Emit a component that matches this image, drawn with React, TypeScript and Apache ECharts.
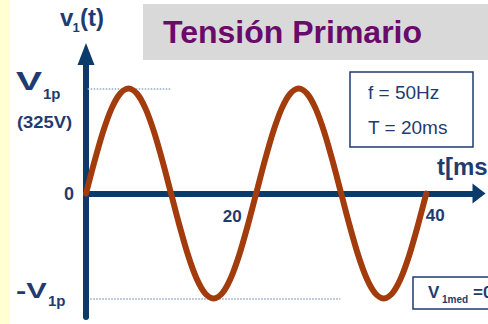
import React, { useEffect, useRef } from "react";
import * as echarts from "echarts";

// time in ms
const timeMs = [0, 1, 2, 3, 4, 5, 6, 7, 8, 9, 10, 11, 12, 13, 14, 15, 16, 17, 18, 19, 20, 21, 22, 23, 24, 25, 26, 27, 28, 29, 30, 31, 32, 33, 34, 35, 36, 37, 38, 39, 40];
// primary voltage v1(t) in volts
const voltage = [0, 100, 191, 263, 309, 325, 309, 263, 191, 100, 0, -100, -191, -263, -309, -325, -309, -263, -191, -100, 0, 100, 191, 263, 309, 325, 309, 263, 191, 100, 0, -100, -191, -263, -309, -325, -309, -263, -191, -100, 0];
// dotted reference lines at peak values [tStart, tEnd, value]
const peakLines = [
  [0.2, 9.9, 325],
  [0.5, 29.9, -325],
];
const xTickLabels = [20, 40];
const yTickLabels = [0];

const NAVY = "#1F3B70";
const AXIS = "#0B3A6B";
const CURVE = "#A33C0C";
const FONT = "'Liberation Sans', Arial, sans-serif";

export default function App() {
  const ref = useRef<HTMLDivElement>(null);
  useEffect(() => {
    if (!ref.current) return;
    const chart = echarts.init(ref.current, null, { renderer: "svg" });
    const t = (
      text: string,
      x: number,
      y: number,
      size: number,
      color: string,
      weight: string = "bold",
      scaleX: number = 1
    ) => ({
      type: "text",
      x,
      y,
      scaleX,
      silent: true,
      z: 10,
      style: {
        text,
        x: 0,
        y: 0,
        fill: color,
        fontSize: size,
        fontWeight: weight,
        fontFamily: FONT,
        align: "left",
        verticalAlign: "middle",
      },
    });
    const tickOffsets = [
      [-24, 23],
      [9, 22],
    ];
    chart.setOption({
      animation: false,
      backgroundColor: "#ffffff",
      grid: {
        left: 86,
        right: 9,
        top: 54,
        bottom: 7,
        outerBoundsMode: "none",
        containLabel: false,
      },
      xAxis: {
        type: "value",
        min: 0,
        max: 46.2,
        interval: 20,
        splitLine: { show: false },
        axisTick: { show: false },
        axisLabel: { show: false },
        axisLine: {
          show: true,
          onZero: true,
          symbol: ["none", "triangle"],
          symbolSize: [20, 13],
          lineStyle: { color: AXIS, width: 6 },
        },
      },
      yAxis: {
        type: "value",
        min: -382,
        max: 432,
        splitLine: { show: false },
        axisTick: { show: false },
        axisLine: {
          show: true,
          onZero: true,
          symbol: ["none", "triangle"],
          symbolSize: [17, 22],
          lineStyle: { color: AXIS, width: 6 },
        },
        axisLabel: {
          margin: 12,
          fontSize: 18,
          fontWeight: "bold",
          fontFamily: FONT,
          color: NAVY,
          formatter: (v: number) => (yTickLabels.includes(v) ? String(v) : ""),
        },
      },
      series: [
        {
          type: "line",
          data: timeMs.map((x, i) => [x, voltage[i]]),
          smooth: 0.3,
          showSymbol: false,
          clip: false,
          z: 5,
          lineStyle: { color: CURVE, width: 6, cap: "round", join: "round" },
          markLine: {
            silent: true,
            symbol: "none",
            label: { show: false },
            lineStyle: { color: "#8FA9C8", type: "dotted", width: 1.5 },
            data: peakLines.map((p) => [
              { coord: [p[0], p[2]] },
              { coord: [p[1], p[2]] },
            ]),
          },
          markPoint: {
            silent: true,
            symbol: "circle",
            symbolSize: 0,
            itemStyle: { color: "transparent" },
            data: xTickLabels.map((v, i) => ({
              coord: [v, 0],
              value: v,
              label: { offset: tickOffsets[i] },
            })),
            label: {
              show: true,
              position: "inside",
              formatter: "{c}",
              fontSize: 17,
              fontWeight: "bold",
              fontFamily: FONT,
              color: NAVY,
            },
          },
        },
      ],
      graphic: [
        { type: "rect", z: -1, silent: true, shape: { x: 0, y: 0, width: 10, height: 324 }, style: { fill: "#FFFFD2" } },
        { type: "rect", z: 1, silent: true, shape: { x: 143, y: 4, width: 360, height: 56 }, style: { fill: "#D9D9D9" } },
        t("Tensión Primario", 163, 32, 32, "#6A0A6A"),
        { type: "rect", z: 1, silent: true, shape: { x: 350, y: 72, width: 123, height: 75 }, style: { fill: "#ffffff", stroke: NAVY, lineWidth: 1.5 } },
        t("f = 50Hz", 368, 92, 19, NAVY, "normal"),
        t("T = 20ms", 368, 127, 19, NAVY, "normal"),
        t("t[ms", 437, 166, 24, NAVY),
        t("v", 60, 17, 24, NAVY),
        t("1", 72.5, 27, 13, NAVY),
        t("(t)", 80, 17, 24, NAVY),
        t("V", 16, 81, 26, NAVY, "bold", 1.5),
        t("1p", 43, 93, 15, NAVY),
        t("(325V)", 17, 122, 16, NAVY, "bold", 1.15),
        t("-V", 16, 291, 22, NAVY, "bold", 1.4),
        t("1p", 48, 300, 15, NAVY),
        { type: "rect", z: 1, silent: true, shape: { x: 413, y: 277, width: 90, height: 32 }, style: { fill: "#ffffff", stroke: NAVY, lineWidth: 1.5 } },
        t("V", 428, 292, 17, NAVY),
        t("1med", 442, 299, 10, NAVY),
        t("=0", 473, 292, 17, NAVY),
      ],
    });
    return () => chart.dispose();
  }, []);
  return (
    <div
      ref={ref}
      style={{ position: "fixed", left: 0, top: 0, width: 488, height: 324 }}
    />
  );
}
